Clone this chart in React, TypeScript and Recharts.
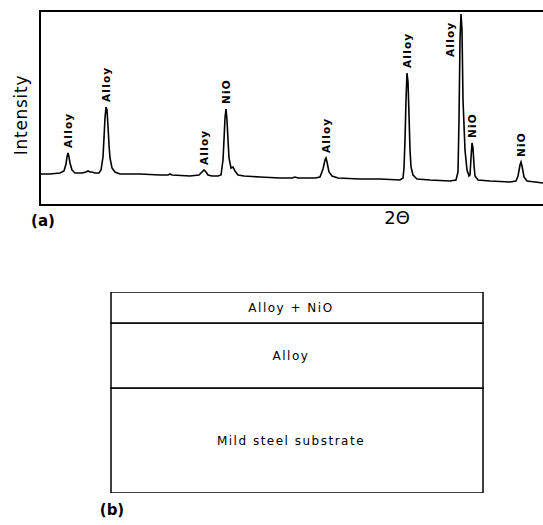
import React from "react";
import {
  ComposedChart,
  Line,
  Scatter,
  XAxis,
  YAxis,
  ReferenceArea,
  BarChart,
  Bar,
  LabelList,
} from "recharts";

// ---- (a) XRD pattern: 2θ position (arbitrary units) vs intensity (arbitrary units) ----
const twoTheta: number[] = [
  0, 10, 20, 24, 26, 27, 28, 29, 30, 32, 35, 42, 46, 48, 50, 52, 55, 59, 61, 63, 64, 65, 66, 67, 68, 69,
  70, 72, 75, 80, 100, 120, 128, 130, 132, 150, 159, 162, 164, 166, 168, 172, 178, 181, 183, 184, 185,
  186, 187, 188, 189, 191, 193, 195, 198, 204, 220, 240, 252, 255, 258, 275, 280, 283, 285, 286, 287,
  289, 292, 298, 320, 340, 360, 363, 364, 365, 366, 367, 368, 369, 370, 371, 373, 377, 390, 410, 416,
  418, 419, 420, 421, 422, 423, 425, 427, 429, 430, 431, 432, 433, 434, 435, 438, 450, 470, 476, 478,
  480, 481, 482, 484, 487, 495, 503,
];
const intensity: number[] = [
  31, 31, 32, 34, 41, 48, 52, 48, 42, 35, 32, 32, 33, 34, 33, 33, 32, 32, 35, 48, 67, 87, 98, 95, 79,
  60, 47, 37, 33, 31, 31, 30, 30, 31, 30, 29, 30, 33, 35, 33, 30, 29, 29, 30, 45, 65, 87, 96, 85, 65,
  47, 37, 38, 34, 30, 29, 28, 27, 27, 28, 27, 27, 28, 36, 45, 47, 43, 33, 29, 27, 26, 26, 25, 27, 37,
  65, 105, 132, 123, 90, 55, 38, 30, 26, 25, 24, 25, 33, 85, 165, 191, 175, 105, 55, 35, 29, 30, 47,
  62, 57, 40, 29, 25, 24, 23, 24, 29, 40, 43, 39, 28, 24, 23, 22,
];
const peakPositions: number[] = [28, 66, 164, 186, 286, 367, 410, 432, 481];
const peakLabelLevels: number[] = [52, 98, 35, 96, 47, 132, 143, 62, 43];
const peakPhases: string[] = ["Alloy", "Alloy", "Alloy", "NiO", "Alloy", "Alloy", "Alloy", "NiO", "NiO"];

// ---- (b) coating cross-section: layer thicknesses (arbitrary units), bottom to top ----
const layerNames: string[] = ["Mild steel substrate", "Alloy", "Alloy + NiO"];
const layerThickness: number[] = [105, 65, 31];

const curve = twoTheta.map((x, i) => ({ x, intensity: intensity[i] }));
const peaks = peakPositions.map((x, i) => ({ x, y: peakLabelLevels[i], phase: peakPhases[i] }));
const layerRow: Record<string, number | string> = { name: "coating" };
layerNames.forEach((n, i) => {
  layerRow["l" + i] = layerThickness[i];
});
const layers = [layerRow];

const FONT = "'DejaVu Sans', sans-serif";

const PeakLabel = (props: any) => {
  const { cx, cy, payload } = props;
  if (cx == null || cy == null) return null;
  const bx = cx;
  const by = cy - 5;
  return (
    <text
      x={bx}
      y={by}
      transform={`rotate(-90, ${bx}, ${by})`}
      textAnchor="start"
      dominantBaseline="central"
      fontFamily={FONT}
      fontWeight="bold"
      fontSize={10.5}
      letterSpacing={1.2}
      fill="#000"
    >
      {payload.phase}
    </text>
  );
};

const LayerLabel = (props: any) => {
  const { x, y, width, height, value } = props;
  return (
    <text
      x={x + width / 2 - 6}
      y={y + height / 2}
      textAnchor="middle"
      dominantBaseline="central"
      fontFamily={FONT}
      fontSize={12}
      letterSpacing={1.5}
      fill="#000"
    >
      {value}
    </text>
  );
};

const abs = (left: number, top: number, extra: React.CSSProperties = {}): React.CSSProperties => ({
  position: "absolute",
  left,
  top,
  fontFamily: FONT,
  color: "#000",
  whiteSpace: "nowrap",
  lineHeight: 1,
  ...extra,
});

export default function App() {
  return (
    <div
      style={{
        position: "absolute",
        left: 0,
        top: 0,
        width: 543,
        height: 525,
        overflow: "hidden",
        background: "#fff",
      }}
    >
      <div style={{ position: "absolute", left: 0, top: 0 }}>
        <ComposedChart width={548} height={230} margin={{ top: 11, right: 0, bottom: 25, left: 40 }}>
          <XAxis type="number" dataKey="x" domain={[0, 508]} hide allowDataOverflow />
          <YAxis type="number" domain={[0, 194]} hide allowDataOverflow />
          <ReferenceArea x1={0} x2={508} y1={0} y2={194} fill="none" stroke="#000" strokeWidth={2} />
          <Line
            data={curve}
            dataKey="intensity"
            type="linear"
            stroke="#000"
            strokeWidth={1.6}
            dot={false}
            isAnimationActive={false}
          />
          <Scatter data={peaks} dataKey="y" shape={<PeakLabel />} isAnimationActive={false} />
        </ComposedChart>
      </div>

      <div style={abs(21, 115, { fontSize: 17, letterSpacing: 0.7, transform: "translate(-50%, -50%) rotate(-90deg)" })}>
        Intensity
      </div>
      <div style={abs(43, 221, { fontSize: 15, fontWeight: "bold", transform: "translate(-50%, -50%)" })}>
        (a)
      </div>
      <div style={abs(397, 218, { fontSize: 18, transform: "translate(-50%, -50%)" })}>2Θ</div>

      <div style={{ position: "absolute", left: 0, top: 280 }}>
        <BarChart
          width={543}
          height={230}
          data={layers}
          margin={{ top: 12, right: 60, bottom: 17, left: 111 }}
          barCategoryGap={0}
          barGap={0}
        >
          <XAxis dataKey="name" hide />
          <YAxis type="number" domain={[0, 201]} hide allowDataOverflow />
          {layerNames.map((n, i) => (
            <Bar
              key={n}
              dataKey={"l" + i}
              stackId="s"
              fill="#fff"
              stroke="#000"
              strokeWidth={1.5}
              isAnimationActive={false}
            >
              <LabelList dataKey={() => n} content={<LayerLabel />} />
            </Bar>
          ))}
        </BarChart>
      </div>

      <div style={abs(112, 510, { fontSize: 15, fontWeight: "bold", transform: "translate(-50%, -50%)" })}>
        (b)
      </div>
    </div>
  );
}
